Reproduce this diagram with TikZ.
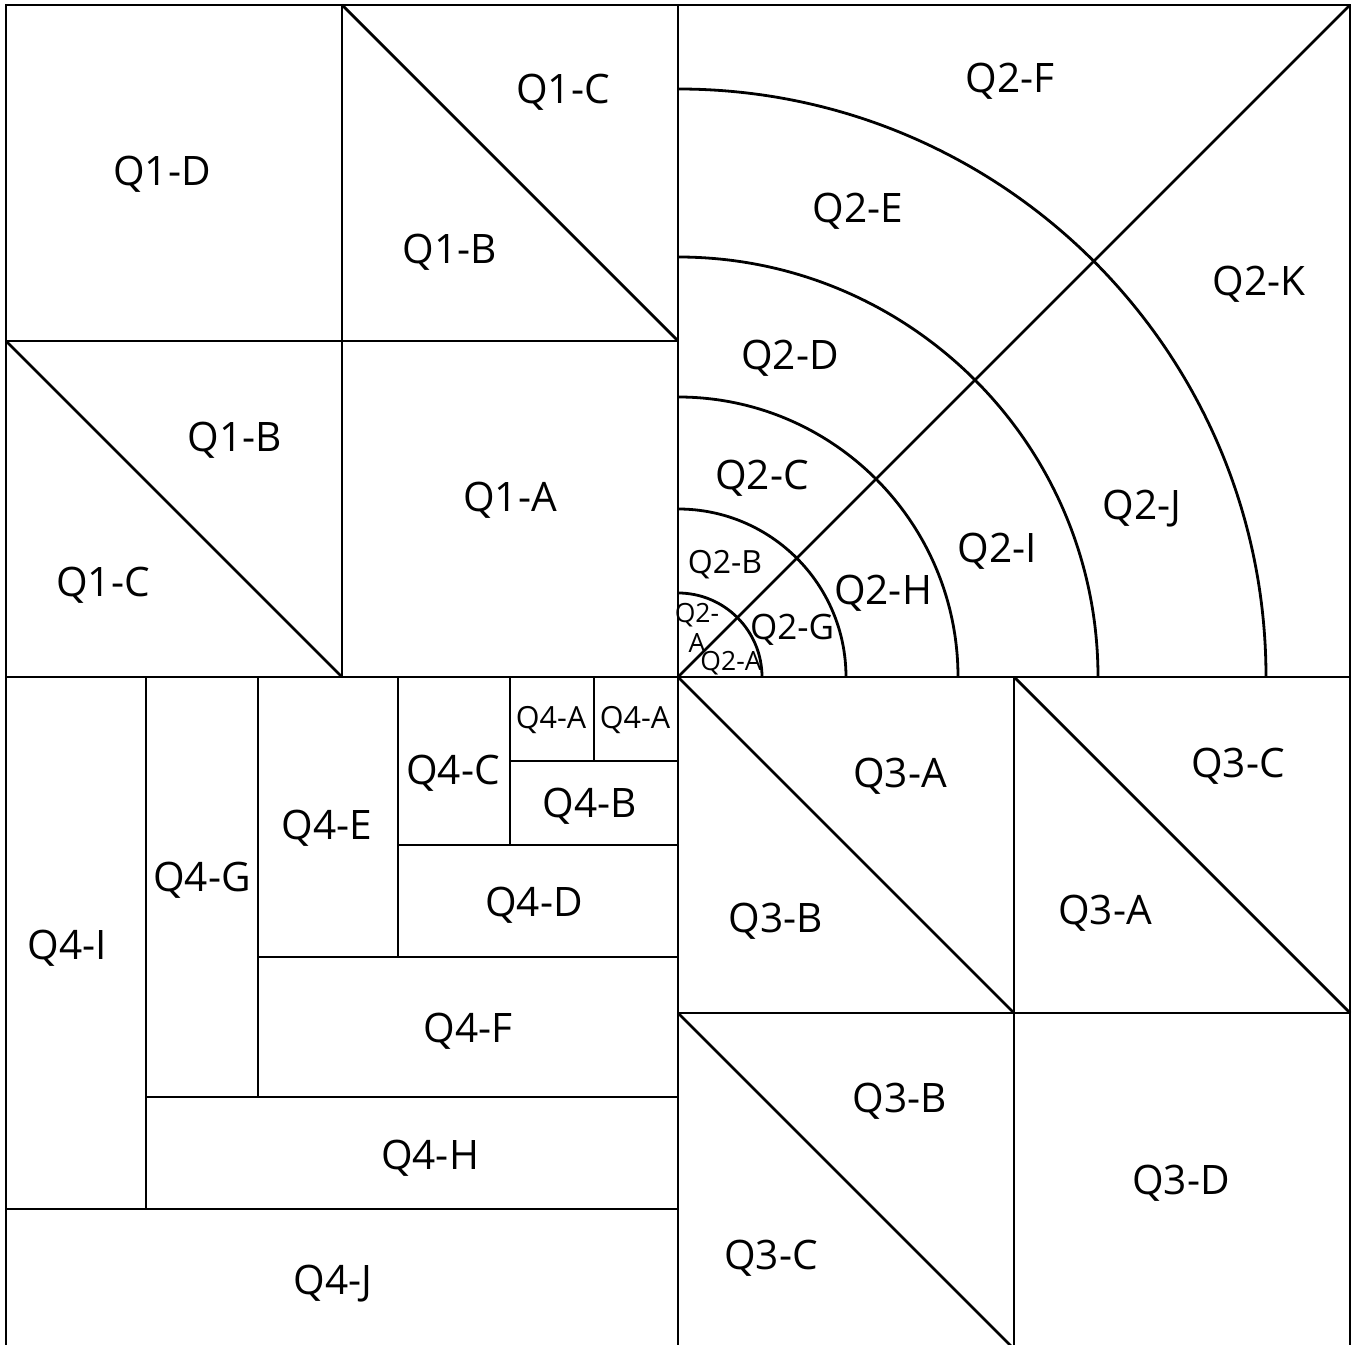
\documentclass[tikz,border=0pt]{standalone}
\usepackage{fontspec}
\setmainfont{Open Sans}
\tikzset{
  edge/.style={line width=2.8pt, line cap=butt, line join=miter},
  lbig/.style={inner sep=0pt, text height=29pt, text depth=0pt, font=\fontsize{40.6}{48}\selectfont},
  lmid/.style={inner sep=0pt, text height=25pt, text depth=0pt, font=\fontsize{35}{42}\selectfont},
  lsmall/.style={inner sep=0pt, text height=23pt, text depth=0pt, font=\fontsize{32}{38}\selectfont},
  lqa/.style={inner sep=0pt, text height=22pt, text depth=0pt, font=\fontsize{30.5}{36}\selectfont},
  ltiny/.style={inner sep=0pt, text height=19pt, text depth=0pt, font=\fontsize{26.5}{32}\selectfont},
}
\begin{document}
\begin{tikzpicture}[x=1pt,y=1pt]
\useasboundingbox (0,0) rectangle (1352,1344);
\clip (0,0) rectangle (1352,1344);
% outer square and centre lines
\draw[edge] (6,-5) rectangle (1350,1339);
\draw[edge] (678,-5) -- (678,1339);
\draw[edge] (6,667) -- (1350,667);
% Q1
\draw[edge] (342,667) -- (342,1339);
\draw[edge] (6,1003) -- (678,1003);
\draw[edge] (342,1339) -- (678,1003);
\draw[edge] (6,1003) -- (342,667);
% Q2
\foreach \r in {84,168,280,420,588}
  \draw[edge] (678+\r,667) arc[start angle=0,end angle=90,radius=\r];
\draw[edge] (678,667) -- (1350,1339);
% Q3
\draw[edge] (1014,667) -- (1014,-5);
\draw[edge] (678,331) -- (1350,331);
\draw[edge] (678,667) -- (1014,331);
\draw[edge] (1014,667) -- (1350,331);
\draw[edge] (678,331) -- (1014,-5);
% Q4
\draw[edge] (6,135) -- (678,135);
\draw[edge] (146,135) -- (146,667);
\draw[edge] (146,247) -- (678,247);
\draw[edge] (258,247) -- (258,667);
\draw[edge] (258,387) -- (678,387);
\draw[edge] (398,387) -- (398,667);
\draw[edge] (398,499) -- (678,499);
\draw[edge] (510,499) -- (510,667);
\draw[edge] (510,583) -- (678,583);
\draw[edge] (594,583) -- (594,667);
% labels Q1
\node[lbig] (q1d) at (162,1173) {Q1-D};
\node[lbig] (q1c1) at (563,1255) {Q1-C};
\node[lbig] (q1b1) at (450,1095) {Q1-B};
\node[lbig] (q1b2) at (235,907) {Q1-B};
\node[lbig] (q1c2) at (103,762) {Q1-C};
\node[lbig] (q1a) at (510,847) {Q1-A};
% labels Q2
\node[lbig] (q2f) at (1010,1266) {Q2-F};
\node[lbig] (q2e) at (858,1136) {Q2-E};
\node[lbig] (q2d) at (790,989) {Q2-D};
\node[lbig] (q2c) at (762,869) {Q2-C};
\node[lsmall] (q2b) at (725,782) {Q2-B};
\node[ltiny, align=center, text height=, text depth=] (q2a1) at (697,716) {Q2-\\[-2pt]A};
\node[ltiny] (q2a2) at (731,683) {Q2-A};
\node[lmid] (q2g) at (792,717) {Q2-G};
\node[lbig] (q2h) at (883,754) {Q2-H};
\node[lbig] (q2i) at (997,796) {Q2-I};
\node[lbig] (q2j) at (1142,839) {Q2-J};
\node[lbig] (q2k) at (1259,1063) {Q2-K};
% labels Q3
\node[lbig] (q3a1) at (900,571) {Q3-A};
\node[lbig] (q3b1) at (776,426) {Q3-B};
\node[lbig] (q3c1) at (1238,581) {Q3-C};
\node[lbig] (q3a2) at (1105,434) {Q3-A};
\node[lbig] (q3b2) at (900,246) {Q3-B};
\node[lbig] (q3c2) at (771,89) {Q3-C};
\node[lbig] (q3d) at (1181,164) {Q3-D};
% labels Q4
\node[lbig] (q4j) at (333,64) {Q4-J};
\node[lbig] (q4i) at (67,399) {Q4-I};
\node[lbig] (q4h) at (430,189) {Q4-H};
\node[lbig] (q4g) at (202,467) {Q4-G};
\node[lbig] (q4f) at (468,316) {Q4-F};
\node[lbig] (q4e) at (327,519) {Q4-E};
\node[lbig] (q4d) at (534,442) {Q4-D};
\node[lbig] (q4c) at (453,574) {Q4-C};
\node[lbig] (q4b) at (590,541) {Q4-B};
\node[lqa] (q4a1) at (551,626) {Q4-A};
\node[lqa] (q4a2) at (635,626) {Q4-A};
\end{tikzpicture}
\end{document}
